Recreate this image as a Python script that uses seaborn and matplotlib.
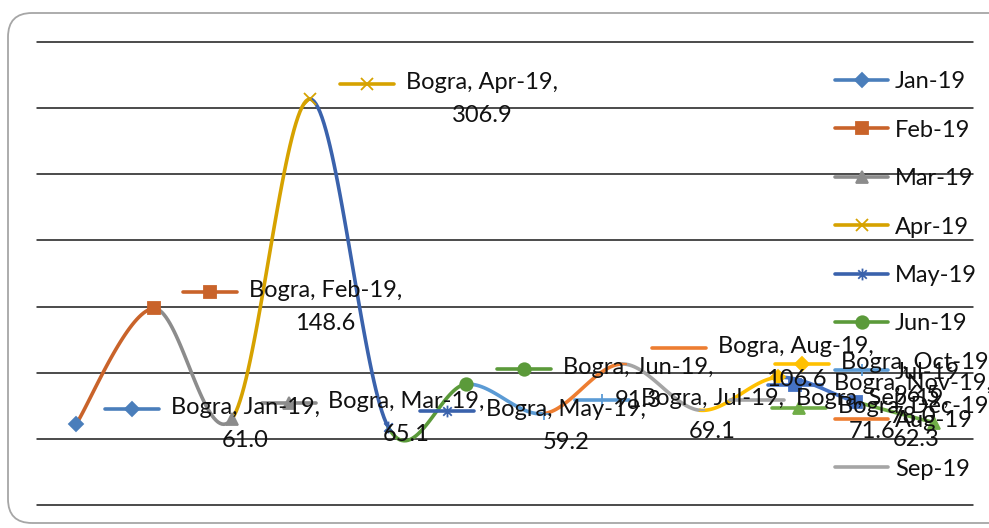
import numpy as np
import pandas as pd
import matplotlib
matplotlib.use("Agg")
import matplotlib.pyplot as plt
import seaborn as sns
from matplotlib.lines import Line2D
from matplotlib.path import Path
from matplotlib.patches import FancyBboxPatch
from matplotlib.transforms import IdentityTransform

# ---- data -------------------------------------------------------------
district = "Bogra"
months = ["Jan-19", "Feb-19", "Mar-19", "Apr-19", "May-19", "Jun-19",
          "Jul-19", "Aug-19", "Sep-19", "Oct-19", "Nov-19", "Dec-19"]
values = [61.0, 148.6, 65.1, 306.9, 59.2, 91.3, 69.1, 106.6, 71.6, 96.5, 78.0, 62.3]
grid_ticks = [0, 50, 100, 150, 200, 250, 300, 350]

# ---- style ------------------------------------------------------------
colors = ["#4A7EBB", "#C9632A", "#8C8C8C", "#D6A200", "#3A62AC", "#5B9A3A",
          "#5B9BD5", "#ED7D31", "#A5A5A5", "#FFC000", "#4472C4", "#70AD47"]
star = Path([(0, -1), (0, 1), (-0.72, -0.72), (0.72, 0.72), (-0.72, 0.72), (0.72, -0.72)],
            [Path.MOVETO, Path.LINETO, Path.MOVETO, Path.LINETO, Path.MOVETO, Path.LINETO])
markers = ["D", "s", "^", "x", star, "o", "+", "_", "_", "D", "s", "^"]
msizes = [7.5, 9, 9, 8, 8.5, 9, 9, 7, 7, 7.5, 9, 9]

W, H = 989, 528
sns.set_theme(style="white")
plt.rcParams["font.family"] = ["Lato", "DejaVu Sans"]
FS = 17

fig = plt.figure(figsize=(W / 100, H / 100), dpi=100)
ax = fig.add_axes([37 / W, 1 - 505 / H, 936 / W, 463 / H])


def px(x, y):
    """Figure-fraction coordinates from pixel position measured from top-left."""
    return x / W, 1 - y / H


# rounded chart-area border
border = FancyBboxPatch((8, H - 523), 1010, 510,
                        boxstyle="round,pad=0,rounding_size=24",
                        transform=IdentityTransform(), fill=False,
                        edgecolor="#A6A6A6", linewidth=1.3, zorder=0)
fig.patches.append(border)

# horizontal gridlines
ax.set_xlim(-0.5, len(months) - 0.5)
ax.set_ylim(grid_ticks[0], grid_ticks[-1])
for g in grid_ticks:
    ax.axhline(g, color="#1a1a1a", lw=1.1, clip_on=False, zorder=1)
ax.set_xticks([])
ax.set_yticks([])
for s in ax.spines.values():
    s.set_visible(False)
ax.patch.set_alpha(0)

# smoothed line: cubic Bezier segments with Catmull-Rom control points
n = len(values)
P = np.array(values, dtype=float)
X = np.arange(n, dtype=float)
t = np.linspace(0, 1, 40)
rows = []
for i in range(n - 1):
    ip, inx = max(i - 1, 0), min(i + 2, n - 1)
    x0, x3 = X[i], X[i + 1]
    y0, y3 = P[i], P[i + 1]
    x1 = x0 + (X[i + 1] - X[ip]) / 6
    y1 = y0 + (P[i + 1] - P[ip]) / 6
    x2 = x3 - (X[inx] - X[i]) / 6
    y2 = y3 - (P[inx] - P[i]) / 6
    bx = (1 - t) ** 3 * x0 + 3 * (1 - t) ** 2 * t * x1 + 3 * (1 - t) * t ** 2 * x2 + t ** 3 * x3
    by = (1 - t) ** 3 * y0 + 3 * (1 - t) ** 2 * t * y1 + 3 * (1 - t) * t ** 2 * y2 + t ** 3 * y3
    for k in range(len(t)):
        rows.append({"month": months[i + 1], "order": k, "x": bx[k], "y": by[k]})
curve = pd.DataFrame(rows)

for i in range(1, n):
    seg = curve[curve["month"] == months[i]]
    sns.lineplot(data=seg, x="x", y="y", sort=False, estimator=None, ax=ax,
                 color=colors[i], linewidth=2.6, zorder=3,
                 solid_capstyle="round", legend=False)

points = pd.DataFrame({"x": X, "y": P, "month": months})
for i in range(n):
    ax.plot(points["x"][i], points["y"][i], marker=markers[i], ms=msizes[i],
            color=colors[i], mec=colors[i], mew=1.3, ls="none", zorder=4,
            clip_on=False)
ax.set_xlabel("")
ax.set_ylabel("")


def draw_key(i, xl, yc, length=54):
    x0, y0 = px(xl, yc)
    x1, _ = px(xl + length, yc)
    fig.add_artist(Line2D([x0, x1], [y0, y0], color=colors[i], lw=2.6,
                          solid_capstyle="round", zorder=5))
    fig.add_artist(Line2D([(x0 + x1) / 2], [y0], marker=markers[i], ms=msizes[i],
                          color=colors[i], mec=colors[i], mew=1.3, zorder=5))


# data labels: key + "District, Month," with the value centred underneath
label_pos = [(105, 409), (183, 292), (262, 403), (340, 84), (420, 411), (497, 369),
             (575, 400), (652, 348), (730, 400), (775, 364), (768, 385), (772, 408)]
for i, (xl, yc) in enumerate(label_pos):
    draw_key(i, xl, yc)
    tx, ty = px(xl + 66, yc - 12)
    fig.text(tx, ty, f"{district}, {months[i]},\n{values[i]:.1f}", fontsize=FS,
             ha="left", va="top", multialignment="center", linespacing=1.68,
             color="#111111", zorder=6)

# legend (entries that fit in the chart area)
for i in range(9):
    yc = 80 + 48.4 * i
    draw_key(i, 835, yc, length=53)
    tx, ty = px(895, yc)
    fig.text(tx, ty, months[i], fontsize=FS, ha="left", va="center_baseline",
             color="#111111", zorder=7)

fig.savefig("out.png", dpi=100)
